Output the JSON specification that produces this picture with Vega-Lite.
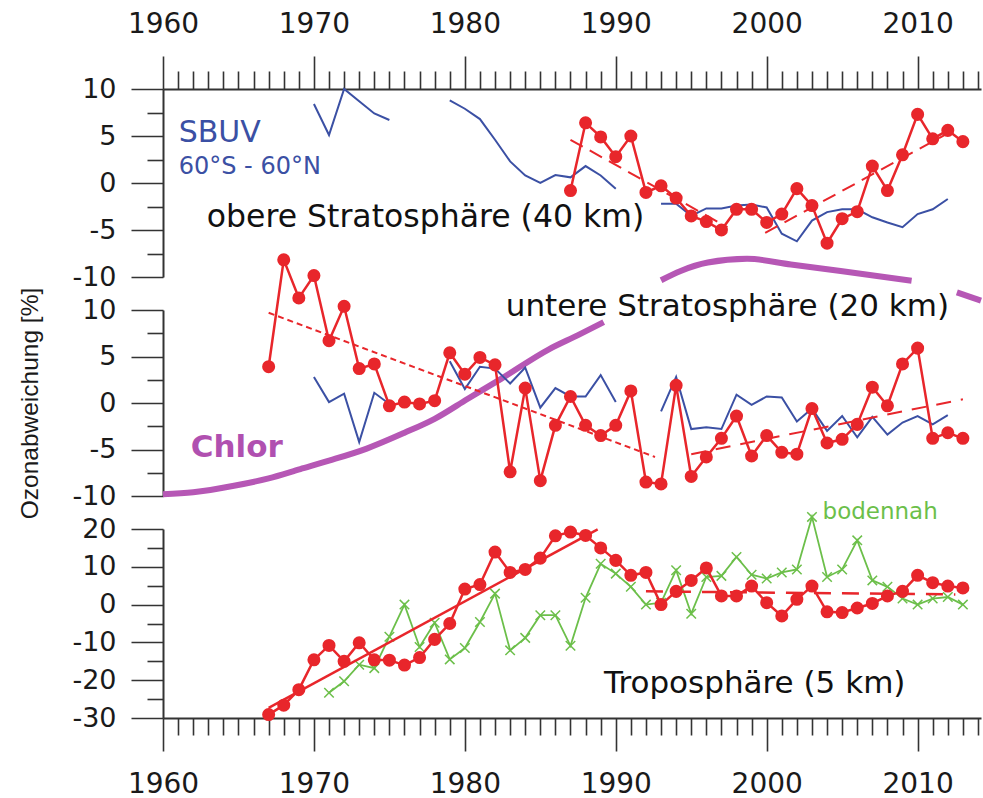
{
  "$schema": "https://vega.github.io/schema/vega-lite/v6.json",
  "background": "white",
  "padding": {"left": 17, "top": 10, "right": 5, "bottom": 5},
  "bounds": "flush",
  "spacing": 33,
  "config": {
    "view": {"stroke": null},
    "font": "DejaVu Sans",
    "axis": {"domainColor": "#333333", "tickColor": "#333333", "domainWidth": 2, "tickWidth": 1.6, "labelColor": "#1a1a1a", "labelFont": "DejaVu Sans", "labelFontSize": 27, "grid": false,
      "labelOverlap": false, "labelFlush": false, "labelBound": false,
      "titleFont": "Liberation Sans", "titleFontSize": 24.5, "titleFontWeight": "normal", "titleColor": "#1a1a1a", "titlePadding": 29.5},
    "axisX": {"tickSize": 33, "labelFontSize": 28},
    "axisY": {"tickSize": 32, "labelPadding": 15},
    "axisTop": {"labelPadding": 18},
    "axisBottom": {"labelPadding": 19}
  },
  "datasets": {
    "top_red": [
      {"year": 1987, "value": -0.8}, {"year": 1988, "value": 6.4}, {"year": 1989, "value": 4.9}, {"year": 1990, "value": 2.8},
      {"year": 1991, "value": 5.0}, {"year": 1992, "value": -1.0}, {"year": 1993, "value": -0.3}, {"year": 1994, "value": -1.6},
      {"year": 1995, "value": -3.5}, {"year": 1996, "value": -4.1}, {"year": 1997, "value": -5.0}, {"year": 1998, "value": -2.8},
      {"year": 1999, "value": -2.8}, {"year": 2000, "value": -4.2}, {"year": 2001, "value": -3.3}, {"year": 2002, "value": -0.6},
      {"year": 2003, "value": -2.4}, {"year": 2004, "value": -6.4}, {"year": 2005, "value": -3.8}, {"year": 2006, "value": -3.05},
      {"year": 2007, "value": 1.8}, {"year": 2008, "value": -0.8}, {"year": 2009, "value": 3.0}, {"year": 2010, "value": 7.3},
      {"year": 2011, "value": 4.7}, {"year": 2012, "value": 5.6}, {"year": 2013, "value": 4.4}
    ],
    "top_sbuv": [
      {"seg": 1, "year": 1970, "value": 8.4}, {"seg": 1, "year": 1971, "value": 5.1}, {"seg": 1, "year": 1972, "value": 10.0},
      {"seg": 1, "year": 1973, "value": 8.7}, {"seg": 1, "year": 1974, "value": 7.4}, {"seg": 1, "year": 1975, "value": 6.7},
      {"seg": 2, "year": 1979, "value": 8.8}, {"seg": 2, "year": 1980, "value": 7.9}, {"seg": 2, "year": 1981, "value": 6.8},
      {"seg": 2, "year": 1982, "value": 4.6}, {"seg": 2, "year": 1983, "value": 2.3}, {"seg": 2, "year": 1984, "value": 0.8},
      {"seg": 2, "year": 1985, "value": 0.0}, {"seg": 2, "year": 1986, "value": 0.85}, {"seg": 2, "year": 1987, "value": 0.6},
      {"seg": 2, "year": 1988, "value": 1.8}, {"seg": 2, "year": 1989, "value": 0.8}, {"seg": 2, "year": 1990, "value": -0.6},
      {"seg": 3, "year": 1993, "value": -2.2}, {"seg": 3, "year": 1994, "value": -2.2}, {"seg": 3, "year": 1995, "value": -3.5},
      {"seg": 3, "year": 1996, "value": -2.7}, {"seg": 3, "year": 1997, "value": -2.7}, {"seg": 3, "year": 1998, "value": -2.4},
      {"seg": 3, "year": 1999, "value": -2.3}, {"seg": 3, "year": 2000, "value": -2.6}, {"seg": 3, "year": 2001, "value": -5.4},
      {"seg": 3, "year": 2002, "value": -6.2}, {"seg": 3, "year": 2003, "value": -4.0}, {"seg": 3, "year": 2004, "value": -3.1},
      {"seg": 3, "year": 2005, "value": -2.8}, {"seg": 3, "year": 2006, "value": -2.8}, {"seg": 3, "year": 2007, "value": -3.65},
      {"seg": 3, "year": 2008, "value": -4.2}, {"seg": 3, "year": 2009, "value": -4.7}, {"seg": 3, "year": 2010, "value": -3.3},
      {"seg": 3, "year": 2011, "value": -2.8}, {"seg": 3, "year": 2012, "value": -1.7}
    ],
    "top_trend": [
      {"trend": "a", "year": 1987, "value": 4.6}, {"trend": "a", "year": 1997.4, "value": -4.7},
      {"trend": "b", "year": 1999.9, "value": -5.3}, {"trend": "b", "year": 2011.9, "value": 5.2}
    ],
    "mid_red": [
      {"year": 1967, "value": 3.9}, {"year": 1968, "value": 15.4}, {"year": 1969, "value": 11.3}, {"year": 1970, "value": 13.7},
      {"year": 1971, "value": 6.7}, {"year": 1972, "value": 10.4}, {"year": 1973, "value": 3.7}, {"year": 1974, "value": 4.2},
      {"year": 1975, "value": -0.3}, {"year": 1976, "value": 0.1}, {"year": 1977, "value": -0.1}, {"year": 1978, "value": 0.25},
      {"year": 1979, "value": 5.4}, {"year": 1980, "value": 3.1}, {"year": 1981, "value": 4.9}, {"year": 1982, "value": 4.1},
      {"year": 1983, "value": -7.4}, {"year": 1984, "value": 1.6}, {"year": 1985, "value": -8.35}, {"year": 1986, "value": -2.4},
      {"year": 1987, "value": 0.7}, {"year": 1988, "value": -2.4}, {"year": 1989, "value": -3.5}, {"year": 1990, "value": -2.4},
      {"year": 1991, "value": 1.3}, {"year": 1992, "value": -8.5}, {"year": 1993, "value": -8.7}, {"year": 1994, "value": 1.9},
      {"year": 1995, "value": -7.9}, {"year": 1996, "value": -5.8}, {"year": 1997, "value": -3.8}, {"year": 1998, "value": -1.4},
      {"year": 1999, "value": -5.7}, {"year": 2000, "value": -3.5}, {"year": 2001, "value": -5.3}, {"year": 2002, "value": -5.5},
      {"year": 2003, "value": -0.6}, {"year": 2004, "value": -4.3}, {"year": 2005, "value": -3.9}, {"year": 2006, "value": -2.3},
      {"year": 2007, "value": 1.7}, {"year": 2008, "value": -0.3}, {"year": 2009, "value": 4.2}, {"year": 2010, "value": 5.9},
      {"year": 2011, "value": -3.8}, {"year": 2012, "value": -3.2}, {"year": 2013, "value": -3.8}
    ],
    "mid_sbuv": [
      {"seg": 1, "year": 1970, "value": 2.8}, {"seg": 1, "year": 1971, "value": 0.1}, {"seg": 1, "year": 1972, "value": 1.0},
      {"seg": 1, "year": 1973, "value": -4.2}, {"seg": 1, "year": 1974, "value": 1.1}, {"seg": 1, "year": 1975, "value": -0.1},
      {"seg": 2, "year": 1979, "value": 4.5}, {"seg": 2, "year": 1980, "value": 1.5}, {"seg": 2, "year": 1981, "value": 3.9},
      {"seg": 2, "year": 1982, "value": 3.7}, {"seg": 2, "year": 1983, "value": 2.1}, {"seg": 2, "year": 1984, "value": 3.8},
      {"seg": 2, "year": 1985, "value": -0.5}, {"seg": 2, "year": 1986, "value": 1.6}, {"seg": 2, "year": 1987, "value": 0.7},
      {"seg": 2, "year": 1988, "value": 0.7}, {"seg": 2, "year": 1989, "value": 3.0}, {"seg": 2, "year": 1990, "value": 0.1},
      {"seg": 3, "year": 1993, "value": -0.9}, {"seg": 3, "year": 1994, "value": 2.8}, {"seg": 3, "year": 1995, "value": -2.8},
      {"seg": 3, "year": 1996, "value": -2.6}, {"seg": 3, "year": 1997, "value": -2.8}, {"seg": 3, "year": 1998, "value": 0.9},
      {"seg": 3, "year": 1999, "value": -0.2}, {"seg": 3, "year": 2000, "value": 0.7}, {"seg": 3, "year": 2001, "value": 0.6},
      {"seg": 3, "year": 2002, "value": -2.0}, {"seg": 3, "year": 2003, "value": -0.6}, {"seg": 3, "year": 2004, "value": -3.0},
      {"seg": 3, "year": 2005, "value": -1.4}, {"seg": 3, "year": 2006, "value": -3.7}, {"seg": 3, "year": 2007, "value": -1.5},
      {"seg": 3, "year": 2008, "value": -3.4}, {"seg": 3, "year": 2009, "value": -2.1}, {"seg": 3, "year": 2010, "value": -1.4},
      {"seg": 3, "year": 2011, "value": -2.3}, {"seg": 3, "year": 2012, "value": -1.3}
    ],
    "mid_trend": [
      {"trend": "a", "year": 1967, "value": 9.7}, {"trend": "a", "year": 1992.6, "value": -5.8},
      {"trend": "b", "year": 1995, "value": -5.5}, {"trend": "b", "year": 2013, "value": 0.4}
    ],
    "chlor": [
      {"seg": "A", "year": 1960, "value": -9.8}, {"seg": "A", "year": 1962, "value": -9.6}, {"seg": "A", "year": 1964.7, "value": -8.9},
      {"seg": "A", "year": 1967, "value": -8.1}, {"seg": "A", "year": 1969.1, "value": -7.1}, {"seg": "A", "year": 1971, "value": -6.2},
      {"seg": "A", "year": 1973.5, "value": -4.9}, {"seg": "A", "year": 1976, "value": -3.2}, {"seg": "A", "year": 1978, "value": -1.7},
      {"seg": "A", "year": 1980.2, "value": 0.46}, {"seg": "A", "year": 1982.4, "value": 2.6}, {"seg": "A", "year": 1985.6, "value": 5.8},
      {"seg": "A", "year": 1987.5, "value": 7.3}, {"seg": "A", "year": 1989.2, "value": 8.7},
      {"seg": "B", "year": 1993, "value": 13.2}, {"seg": "B", "year": 1994.3, "value": 14.2}, {"seg": "B", "year": 1996.1, "value": 15.1},
      {"seg": "B", "year": 1998.7, "value": 15.5}, {"seg": "B", "year": 2001.6, "value": 14.9}, {"seg": "B", "year": 2004.9, "value": 14.2},
      {"seg": "B", "year": 2009.6, "value": 13.15},
      {"seg": "C", "year": 2012.6, "value": 11.9}, {"seg": "C", "year": 2014.2, "value": 11.0}
    ],
    "bot_red": [
      {"year": 1967, "value": -29.1}, {"year": 1968, "value": -26.6}, {"year": 1969, "value": -22.5}, {"year": 1970, "value": -14.6},
      {"year": 1971, "value": -10.8}, {"year": 1972, "value": -15.0}, {"year": 1973, "value": -10.1}, {"year": 1974, "value": -14.6},
      {"year": 1975, "value": -14.7}, {"year": 1976, "value": -16.0}, {"year": 1977, "value": -14.0}, {"year": 1978, "value": -9.2},
      {"year": 1979, "value": -5.0}, {"year": 1980, "value": 4.1}, {"year": 1981, "value": 5.3}, {"year": 1982, "value": 13.9},
      {"year": 1983, "value": 8.5}, {"year": 1984, "value": 9.3}, {"year": 1985, "value": 12.3}, {"year": 1986, "value": 18.2},
      {"year": 1987, "value": 19.2}, {"year": 1988, "value": 18.3}, {"year": 1989, "value": 15.0}, {"year": 1990, "value": 11.7},
      {"year": 1991, "value": 7.75}, {"year": 1992, "value": 8.5}, {"year": 1993, "value": 0.0}, {"year": 1994, "value": 3.5},
      {"year": 1995, "value": 6.4}, {"year": 1996, "value": 9.7}, {"year": 1997, "value": 2.3}, {"year": 1998, "value": 2.3},
      {"year": 1999, "value": 4.9}, {"year": 2000, "value": 0.5}, {"year": 2001, "value": -3.0}, {"year": 2002, "value": 1.4},
      {"year": 2003, "value": 4.9}, {"year": 2004, "value": -1.9}, {"year": 2005, "value": -2.1}, {"year": 2006, "value": -0.9},
      {"year": 2007, "value": 0.3}, {"year": 2008, "value": 2.3}, {"year": 2009, "value": 3.5}, {"year": 2010, "value": 7.75},
      {"year": 2011, "value": 5.8}, {"year": 2012, "value": 4.9}, {"year": 2013, "value": 4.4}
    ],
    "bot_green": [
      {"year": 1971, "value": -23.3}, {"year": 1972, "value": -20.3}, {"year": 1973, "value": -15.9}, {"year": 1974, "value": -16.8},
      {"year": 1975, "value": -8.5}, {"year": 1976, "value": 0.0}, {"year": 1977, "value": -11.2}, {"year": 1978, "value": -4.8},
      {"year": 1979, "value": -14.5}, {"year": 1980, "value": -11.5}, {"year": 1981, "value": -4.6}, {"year": 1982, "value": 2.9},
      {"year": 1983, "value": -12.1}, {"year": 1984, "value": -8.8}, {"year": 1985, "value": -2.8}, {"year": 1986, "value": -2.8},
      {"year": 1987, "value": -10.9}, {"year": 1988, "value": 1.8}, {"year": 1989, "value": 10.8}, {"year": 1990, "value": 8.2},
      {"year": 1991, "value": 4.7}, {"year": 1992, "value": 0.0}, {"year": 1993, "value": 0.5}, {"year": 1994, "value": 9.1},
      {"year": 1995, "value": -2.4}, {"year": 1996, "value": 7.3}, {"year": 1997, "value": 7.6}, {"year": 1998, "value": 12.6},
      {"year": 1999, "value": 7.9}, {"year": 2000, "value": 6.9}, {"year": 2001, "value": 8.5}, {"year": 2002, "value": 9.3},
      {"year": 2003, "value": 23.2}, {"year": 2004, "value": 7.3}, {"year": 2005, "value": 9.3}, {"year": 2006, "value": 17.0},
      {"year": 2007, "value": 6.4}, {"year": 2008, "value": 4.7}, {"year": 2009, "value": 1.6}, {"year": 2010, "value": 0.0},
      {"year": 2011, "value": 1.6}, {"year": 2012, "value": 2.0}, {"year": 2013, "value": 0.0}
    ],
    "bot_trend": [
      {"trend": "a", "year": 1967, "value": -27.3}, {"trend": "a", "year": 1988.8, "value": 19.9},
      {"trend": "b", "year": 1992, "value": 3.5}, {"trend": "b", "year": 2012.5, "value": 2.7}
    ]
  },
  "vconcat": [
    {
      "width": 818, "height": 188,
      "encoding": {
        "x": {"field": "year", "type": "quantitative", "scale": {"domain": [1960, 2014.2], "nice": false, "zero": false},
          "axis": {"orient": "top", "title": null,
            "values": [1960,1961,1962,1963,1964,1965,1966,1967,1968,1969,1970,1971,1972,1973,1974,1975,1976,1977,1978,1979,1980,1981,1982,1983,1984,1985,1986,1987,1988,1989,1990,1991,1992,1993,1994,1995,1996,1997,1998,1999,2000,2001,2002,2003,2004,2005,2006,2007,2008,2009,2010,2011,2012,2013,2014],
            "tickDash": {"condition": {"test": "datum.value % 10 !== 0", "value": [18, 60]}, "value": [60, 0]},
            "labelExpr": "datum.value % 10 === 0 ? '' + datum.value : ''"}},
        "y": {"field": "value", "type": "quantitative", "scale": {"domain": [-10, 10], "nice": false, "zero": false},
          "axis": {"orient": "left", "title": null,
            "values": [-10, -7.5, -5, -2.5, 0, 2.5, 5, 7.5, 10],
            "tickDash": {"condition": {"test": "datum.value % 5 !== 0", "value": [16, 60]}, "value": [60, 0]},
            "labelExpr": "datum.value % 5 === 0 ? '' + datum.value : ''"}}
      },
      "layer": [
        {
          "data": {"values": [{}]},
          "mark": {"type": "rule", "color": "#999999", "strokeWidth": 1.2},
          "encoding": {"y": {"datum": 0, "type": "quantitative", "axis": {"orient": "left", "title": null,
            "values": [-10, -7.5, -5, -2.5, 0, 2.5, 5, 7.5, 10],
            "tickDash": {"condition": {"test": "datum.value % 5 !== 0", "value": [16, 60]}, "value": [60, 0]},
            "labelExpr": "datum.value % 5 === 0 ? '' + datum.value : ''"}},
            "x": {"datum": 1960, "type": "quantitative", "axis": {"orient": "top", "title": null,
            "values": [1960,1961,1962,1963,1964,1965,1966,1967,1968,1969,1970,1971,1972,1973,1974,1975,1976,1977,1978,1979,1980,1981,1982,1983,1984,1985,1986,1987,1988,1989,1990,1991,1992,1993,1994,1995,1996,1997,1998,1999,2000,2001,2002,2003,2004,2005,2006,2007,2008,2009,2010,2011,2012,2013,2014],
            "tickDash": {"condition": {"test": "datum.value % 10 !== 0", "value": [18, 60]}, "value": [60, 0]},
            "labelExpr": "datum.value % 10 === 0 ? '' + datum.value : ''"}},
            "x2": {"datum": 2014.2}}
        },
        {
          "data": {"name": "top_sbuv"},
          "mark": {"type": "line", "color": "#3b50a4", "strokeWidth": 2},
          "encoding": {"detail": {"field": "seg", "type": "nominal"}}
        },
        {
          "data": {"name": "top_trend"},
          "mark": {"type": "line", "color": "#e8262b", "strokeWidth": 2, "strokeDash": [14, 8]},
          "encoding": {"detail": {"field": "trend", "type": "nominal"}}
        },
        {
          "data": {"name": "top_red"},
          "mark": {"type": "line", "color": "#e8262b", "strokeWidth": 2.5, "point": {"filled": true, "size": 170, "color": "#e8262b", "opacity": 1}}
        },
        {
          "data": {"values": [{"label": "SBUV", "year": 1961.04, "value": 4.33}]},
          "mark": {"type": "text", "align": "left", "baseline": "alphabetic", "font": "DejaVu Sans", "fontSize": 30, "color": "#3b50a4"},
          "encoding": {"text": {"field": "label"}}
        },
        {
          "data": {"values": [{"label": "60°S - 60°N", "year": 1961.04, "value": 0.96}]},
          "mark": {"type": "text", "align": "left", "baseline": "alphabetic", "font": "DejaVu Sans", "fontSize": 24, "color": "#3b50a4"},
          "encoding": {"text": {"field": "label"}}
        },
        {
          "data": {"values": [{"label": "obere Stratosphäre (40 km)", "year": 1962.9, "value": -4.68}]},
          "mark": {"type": "text", "align": "left", "baseline": "alphabetic", "font": "DejaVu Sans", "fontSize": 31.5, "color": "#111111"},
          "encoding": {"text": {"field": "label"}}
        }
      ]
    },
    {
      "width": 818, "height": 186,
      "encoding": {
        "x": {"field": "year", "type": "quantitative", "scale": {"domain": [1960, 2014.2], "nice": false, "zero": false}, "axis": null},
        "y": {"field": "value", "type": "quantitative", "scale": {"domain": [-10, 10], "nice": false, "zero": false},
          "axis": {"orient": "left", "title": "Ozonabweichung [%]",
            "values": [-10, -7.5, -5, -2.5, 0, 2.5, 5, 7.5, 10],
            "tickDash": {"condition": {"test": "datum.value % 5 !== 0", "value": [16, 60]}, "value": [60, 0]},
            "labelExpr": "datum.value % 5 === 0 ? '' + datum.value : ''"}}
      },
      "layer": [
        {
          "data": {"values": [{}]},
          "mark": {"type": "rule", "color": "#222222", "strokeWidth": 1.5},
          "encoding": {"y": {"datum": 0, "type": "quantitative", "axis": {"orient": "left", "title": "Ozonabweichung [%]",
            "values": [-10, -7.5, -5, -2.5, 0, 2.5, 5, 7.5, 10],
            "tickDash": {"condition": {"test": "datum.value % 5 !== 0", "value": [16, 60]}, "value": [60, 0]},
            "labelExpr": "datum.value % 5 === 0 ? '' + datum.value : ''"}},
            "x": {"datum": 1960, "type": "quantitative", "axis": null},
            "x2": {"datum": 2014.2}}
        },
        {
          "data": {"name": "chlor"},
          "mark": {"type": "line", "color": "#b657b5", "strokeWidth": 6, "interpolate": "monotone", "strokeCap": "butt"},
          "encoding": {"detail": {"field": "seg", "type": "nominal"}}
        },
        {
          "data": {"name": "mid_sbuv"},
          "mark": {"type": "line", "color": "#3b50a4", "strokeWidth": 2},
          "encoding": {"detail": {"field": "seg", "type": "nominal"}}
        },
        {
          "data": {"name": "mid_trend"},
          "transform": [{"filter": "datum.trend === 'a'"}],
          "mark": {"type": "line", "color": "#e8262b", "strokeWidth": 2, "strokeDash": [6, 4]}
        },
        {
          "data": {"name": "mid_trend"},
          "transform": [{"filter": "datum.trend === 'b'"}],
          "mark": {"type": "line", "color": "#e8262b", "strokeWidth": 2, "strokeDash": [15, 10]}
        },
        {
          "data": {"name": "mid_red"},
          "mark": {"type": "line", "color": "#e8262b", "strokeWidth": 2.5, "point": {"filled": true, "size": 170, "color": "#e8262b", "opacity": 1}}
        },
        {
          "data": {"values": [{"label": "untere Stratosphäre (20 km)", "year": 1982.71, "value": 9.39}]},
          "mark": {"type": "text", "align": "left", "baseline": "alphabetic", "font": "DejaVu Sans", "fontSize": 31, "color": "#111111"},
          "encoding": {"text": {"field": "label"}}
        },
        {
          "data": {"values": [{"label": "Chlor", "year": 1961.84, "value": -5.84}]},
          "mark": {"type": "text", "align": "left", "baseline": "alphabetic", "font": "DejaVu Sans", "fontSize": 31, "fontWeight": "bold", "color": "#b050b0"},
          "encoding": {"text": {"field": "label"}}
        }
      ]
    },
    {
      "width": 818, "height": 189,
      "encoding": {
        "x": {"field": "year", "type": "quantitative", "scale": {"domain": [1960, 2014.2], "nice": false, "zero": false},
          "axis": {"orient": "bottom", "title": null,
            "values": [1960,1961,1962,1963,1964,1965,1966,1967,1968,1969,1970,1971,1972,1973,1974,1975,1976,1977,1978,1979,1980,1981,1982,1983,1984,1985,1986,1987,1988,1989,1990,1991,1992,1993,1994,1995,1996,1997,1998,1999,2000,2001,2002,2003,2004,2005,2006,2007,2008,2009,2010,2011,2012,2013,2014],
            "tickDash": {"condition": {"test": "datum.value % 10 !== 0", "value": [17, 60]}, "value": [60, 0]},
            "labelExpr": "datum.value % 10 === 0 ? '' + datum.value : ''"}},
        "y": {"field": "value", "type": "quantitative", "scale": {"domain": [-30, 20], "nice": false, "zero": false},
          "axis": {"orient": "left", "title": null,
            "values": [-30, -25, -20, -15, -10, -5, 0, 5, 10, 15, 20],
            "tickDash": {"condition": {"test": "datum.value % 10 !== 0", "value": [16, 60]}, "value": [60, 0]},
            "labelExpr": "datum.value % 10 === 0 ? '' + datum.value : ''"}}
      },
      "layer": [
        {
          "data": {"values": [{}]},
          "mark": {"type": "rule", "color": "#222222", "strokeWidth": 1.5},
          "encoding": {"y": {"datum": 0, "type": "quantitative", "axis": {"orient": "left", "title": null,
            "values": [-30, -25, -20, -15, -10, -5, 0, 5, 10, 15, 20],
            "tickDash": {"condition": {"test": "datum.value % 10 !== 0", "value": [16, 60]}, "value": [60, 0]},
            "labelExpr": "datum.value % 10 === 0 ? '' + datum.value : ''"}},
            "x": {"datum": 1960, "type": "quantitative", "axis": {"orient": "bottom", "title": null,
            "values": [1960,1961,1962,1963,1964,1965,1966,1967,1968,1969,1970,1971,1972,1973,1974,1975,1976,1977,1978,1979,1980,1981,1982,1983,1984,1985,1986,1987,1988,1989,1990,1991,1992,1993,1994,1995,1996,1997,1998,1999,2000,2001,2002,2003,2004,2005,2006,2007,2008,2009,2010,2011,2012,2013,2014],
            "tickDash": {"condition": {"test": "datum.value % 10 !== 0", "value": [17, 60]}, "value": [60, 0]},
            "labelExpr": "datum.value % 10 === 0 ? '' + datum.value : ''"}},
            "x2": {"datum": 2014.2}}
        },
        {
          "data": {"name": "bot_green"},
          "mark": {"type": "line", "color": "#6cbf4a", "strokeWidth": 1.8, "point": {"shape": "M-1,-1L1,1M-1,1L1,-1", "filled": false, "size": 90, "strokeWidth": 1.5, "color": "#6cbf4a", "opacity": 1}}
        },
        {
          "data": {"name": "bot_trend"},
          "transform": [{"filter": "datum.trend === 'a'"}],
          "mark": {"type": "line", "color": "#e8262b", "strokeWidth": 2.5}
        },
        {
          "data": {"name": "bot_trend"},
          "transform": [{"filter": "datum.trend === 'b'"}],
          "mark": {"type": "line", "color": "#e8262b", "strokeWidth": 2.5, "strokeDash": [17, 11]}
        },
        {
          "data": {"name": "bot_red"},
          "mark": {"type": "line", "color": "#e8262b", "strokeWidth": 2.5, "point": {"filled": true, "size": 170, "color": "#e8262b", "opacity": 1}}
        },
        {
          "data": {"values": [{"label": "bodennah", "year": 2003.7, "value": 22.6}]},
          "mark": {"type": "text", "align": "left", "baseline": "alphabetic", "font": "DejaVu Sans", "fontSize": 23, "color": "#6cbf4a"},
          "encoding": {"text": {"field": "label"}}
        },
        {
          "data": {"values": [{"label": "Troposphäre (5 km)", "year": 1989.22, "value": -23.5}]},
          "mark": {"type": "text", "align": "left", "baseline": "alphabetic", "font": "DejaVu Sans", "fontSize": 31, "color": "#111111"},
          "encoding": {"text": {"field": "label"}}
        }
      ]
    }
  ]
}
